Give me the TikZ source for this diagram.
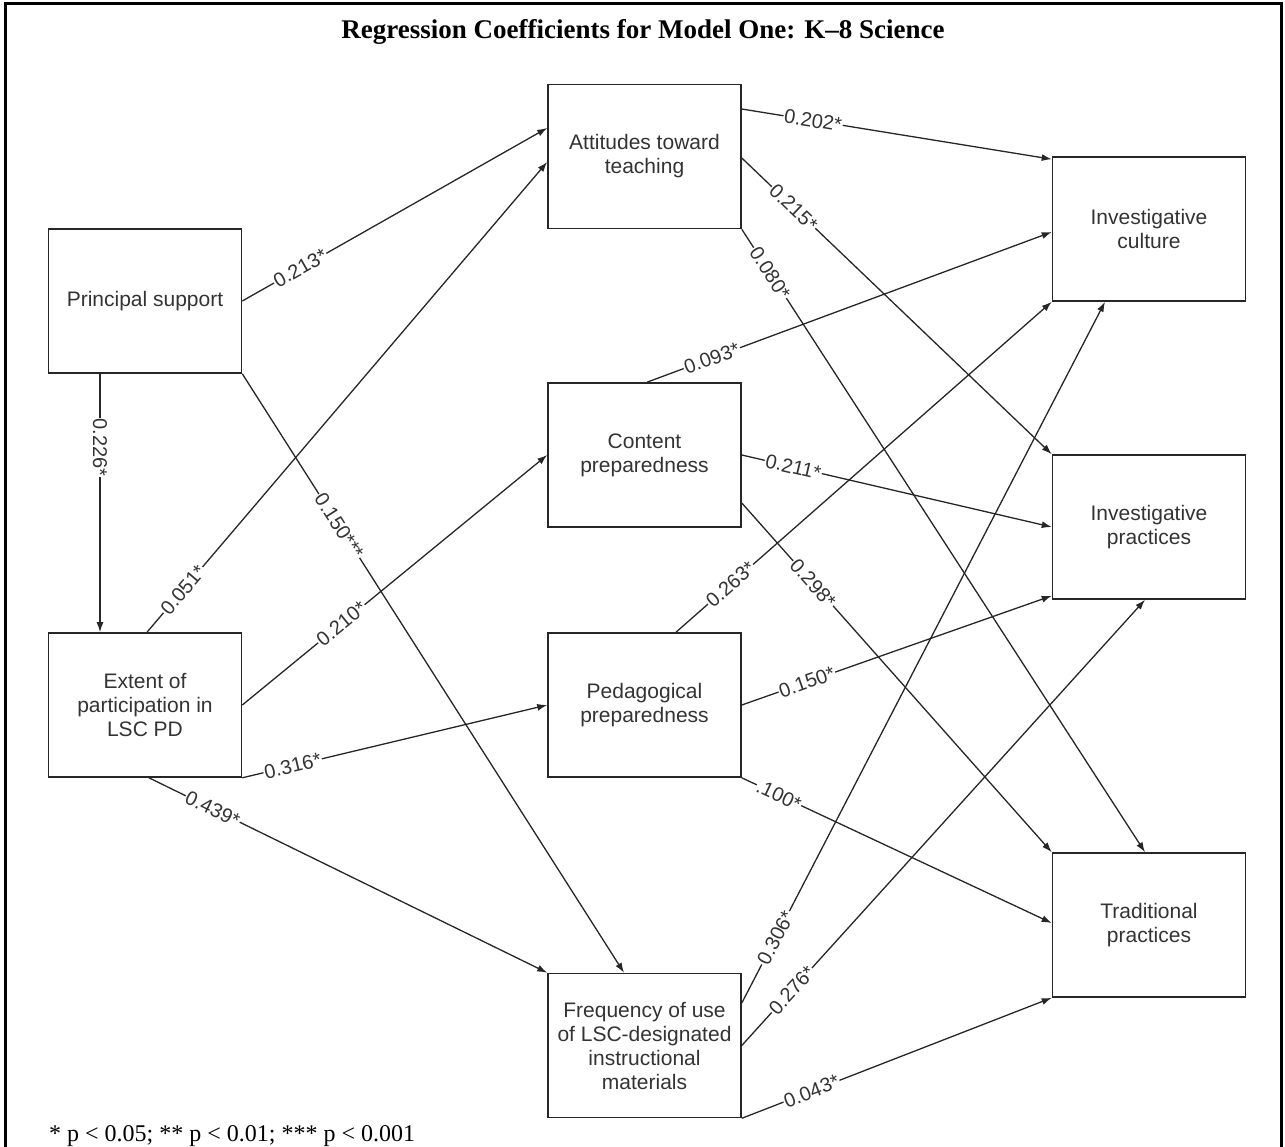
\documentclass[tikz,border=0pt]{standalone}
\usepackage{fontspec}
\setmainfont{Liberation Serif}
\newfontfamily\arialf{Liberation Sans}
\usetikzlibrary{arrows.meta}
\begin{document}
\begin{tikzpicture}[x=1pt,y=-1pt,
 box/.style={draw=black!85, line width=1.6pt, minimum width=193pt, minimum height=144pt, inner sep=0pt, align=center, font=\arialf\fontsize{21}{24}\selectfont, text=black!80},
 edge/.style={draw=black!85, line width=1.3pt, -{Latex[length=10pt,width=7pt]}},
 lab/.style={sloped, fill=white, inner sep=1pt, font=\arialf\fontsize{20}{20}\selectfont, text=black!80}]
\useasboundingbox (0,0) rectangle (1285,1146);
\draw[line width=3pt] (5,1150) -- (5,3) -- (1281,3) -- (1281,1150);

\node[font=\bfseries\fontsize{27}{27}\selectfont] (title) at (643,32) {Regression Coefficients for Model One: K–8 Science};

\node[box] (ps) at (145,301) {Principal support};
\node[box] (ext) at (145,705) {Extent of\\participation in\\LSC PD};
\node[box] (att) at (644.5,156.5) {Attitudes toward\\teaching};
\node[box] (con) at (644.5,455) {Content\\preparedness};
\node[box] (ped) at (644.5,705) {Pedagogical\\preparedness};
\node[box] (frq) at (644.5,1045.5) {Frequency of use\\of LSC-designated\\instructional\\materials};
\node[box] (ic) at (1149,229) {Investigative\\culture};
\node[box] (ip) at (1149,527) {Investigative\\practices};
\node[box] (tp) at (1149,925) {Traditional\\practices};

\draw[edge] (ps.east) -- node[lab,pos=0.19]{0.213*} ([yshift=28.5pt]att.west);
\draw[edge] ([xshift=2pt]ext.north) -- node[lab,pos=0.09]{0.051*} ([yshift=-5.5pt]att.west);
\draw[edge] ([xshift=-45pt]ps.south) -- node[lab,pos=0.285]{0.226*} ([xshift=-45pt]ext.north);
\draw[edge] (ps.south east) -- node[lab,pos=0.254]{0.150***} ([xshift=-20.5pt]frq.north);
\draw[edge] (ext.east) -- node[lab,pos=0.325]{0.210*} (con.west);
\draw[edge] (ext.south east) -- node[lab,pos=0.165]{0.316*} (ped.west);
\draw[edge] ([xshift=4pt]ext.south) -- node[lab,pos=0.16]{0.439*} (frq.north west);
\draw[edge] ([yshift=47.5pt]att.east) -- node[lab,pos=0.23]{0.202*} ([yshift=-3pt]ic.north west);
\draw[edge] ([yshift=-1.5pt]att.east) -- node[lab,pos=0.167]{0.215*} (ip.north west);
\draw[edge] (att.south east) -- node[lab,pos=0.07]{0.080*} ([xshift=-4pt]tp.north);
\draw[edge] ([xshift=2.5pt]con.north) -- node[lab,pos=0.16]{0.093*} ([yshift=-3pt]ic.west);
\draw[edge] (con.east) -- node[lab,pos=0.166]{0.211*} (ip.west);
\draw[edge] ([yshift=-48pt]con.east) -- node[lab,pos=0.23]{0.298*} (tp.north west);
\draw[edge] ([xshift=31.5pt]ped.north) -- node[lab,pos=0.145]{0.263*} (ic.south west);
\draw[edge] (ped.east) -- node[lab,pos=0.21]{0.150*} ([yshift=4pt]ip.south west);
\draw[edge] (ped.south east) -- node[lab,pos=0.12]{.100*} ([yshift=2pt]tp.west);
\draw[edge] ([yshift=42.5pt]frq.east) -- node[lab,pos=0.093]{0.306*} ([xshift=-44pt]ic.south);
\draw[edge] (frq.east) -- node[lab,pos=0.124]{0.276*} ([xshift=-4pt]ip.south);
\draw[edge] (frq.south east) -- node[lab,pos=0.225]{0.043*} (tp.south west);

\node[anchor=base west, inner sep=0pt, font=\fontsize{24}{24}\selectfont] (fn) at (49,1141) {* p < 0.05; ** p < 0.01; *** p < 0.001};
\end{tikzpicture}
\end{document}
